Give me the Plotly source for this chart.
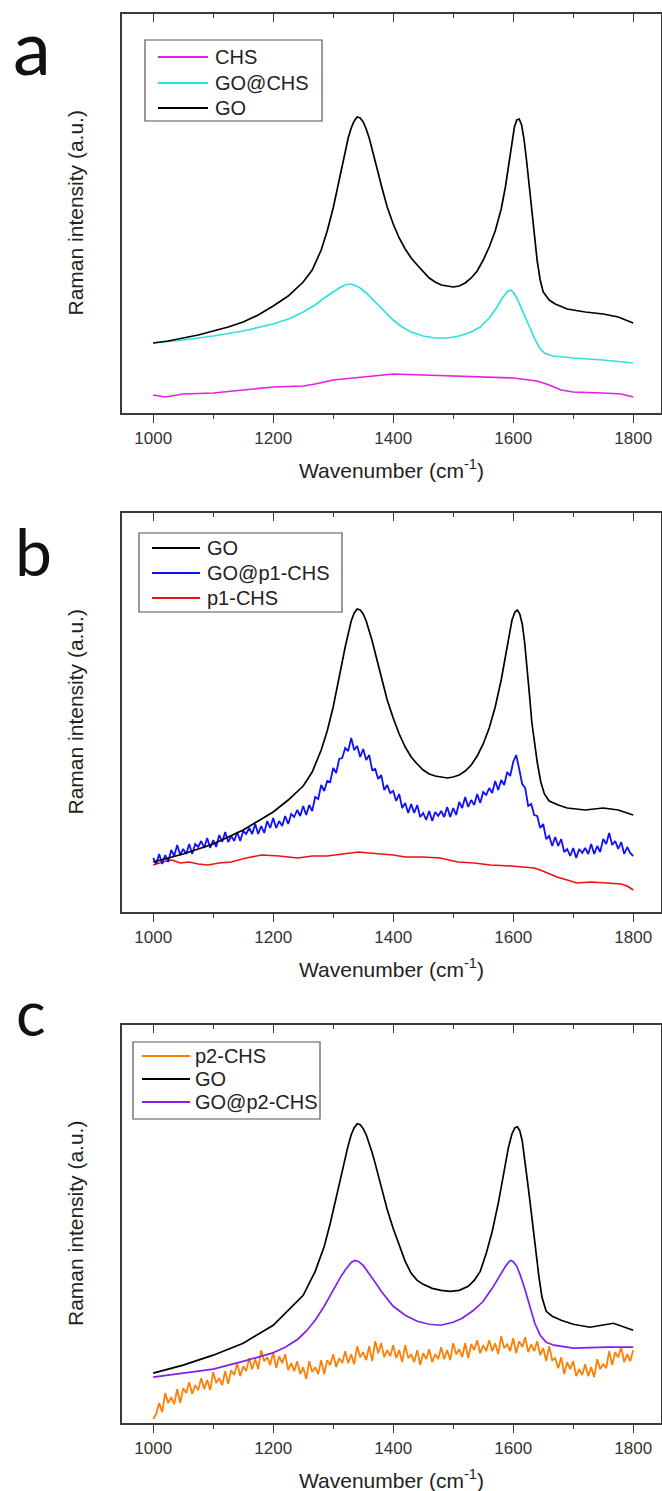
import plotly.graph_objects as go

# ---------------- data (intensity in arbitrary units) ----------------
# Panel a
a_chs_x = [1000, 1020, 1050, 1100, 1150, 1200, 1250, 1270, 1300, 1350, 1400, 1450, 1500, 1550, 1600, 1640, 1660, 1680, 1700, 1750, 1780, 1800]
a_chs_y = [18, 16, 19, 20, 23, 26, 27, 29, 33, 36, 39, 38, 37, 36, 35, 32, 28, 23, 21, 20, 19, 16]

a_gochs_x = [1000, 1050, 1100, 1150, 1200, 1230, 1250, 1270, 1285, 1300, 1310, 1320, 1328, 1335, 1345, 1355, 1365, 1375, 1390, 1400, 1415, 1430, 1450, 1470, 1490, 1510, 1530, 1545, 1560, 1572, 1582, 1590, 1595, 1600, 1606, 1613, 1620, 1628, 1636, 1644, 1652, 1665, 1700, 1750, 1800]
a_gochs_y = [70, 73, 77, 82, 89, 95, 101, 108, 115, 121, 125, 128, 129, 128, 125, 120, 114, 107, 98, 93, 86, 81, 77, 75, 75, 77, 81, 86, 95, 105, 115, 121, 123, 121, 115, 106, 96, 85, 74, 65, 60, 57, 55, 53, 50]

a_go_x = [1000, 1025, 1050, 1075, 1100, 1125, 1150, 1175, 1200, 1225, 1250, 1265, 1280, 1290, 1300, 1305, 1310, 1315, 1320, 1325, 1330, 1335, 1340, 1345, 1350, 1355, 1360, 1365, 1370, 1375, 1380, 1390, 1400, 1410, 1420, 1430, 1440, 1450, 1460, 1470, 1480, 1490, 1500, 1510, 1520, 1530, 1540, 1550, 1560, 1570, 1580, 1587, 1593, 1598, 1602, 1606, 1610, 1614, 1618, 1622, 1626, 1630, 1635, 1640, 1645, 1650, 1660, 1670, 1690, 1720, 1750, 1775, 1800]
a_go_y = [70, 72, 75, 78, 82, 86, 91, 98, 107, 117, 131, 143, 163, 182, 205, 219, 233, 248, 262, 275, 285, 292, 296, 295, 291, 284, 275, 264, 252, 240, 228, 206, 189, 175, 164, 155, 148, 141, 135, 131, 128, 127, 126, 127, 130, 135, 142, 153, 166, 182, 204, 226, 250, 272, 286, 293, 294, 288, 274, 254, 230, 205, 178, 152, 133, 121, 113, 109, 104, 101, 99, 96, 90]

# Panel b
b_go_x = [1000, 1050, 1100, 1150, 1200, 1225, 1250, 1265, 1280, 1290, 1300, 1305, 1310, 1315, 1320, 1325, 1330, 1335, 1340, 1345, 1350, 1355, 1360, 1365, 1370, 1375, 1380, 1390, 1400, 1410, 1420, 1430, 1440, 1450, 1460, 1470, 1480, 1490, 1500, 1510, 1520, 1530, 1540, 1550, 1560, 1570, 1580, 1587, 1593, 1598, 1603, 1607, 1611, 1615, 1619, 1623, 1627, 1631, 1636, 1640, 1646, 1652, 1660, 1675, 1690, 1720, 1750, 1775, 1800]
b_go_y = [50, 58, 68, 82, 100, 112, 126, 140, 162, 181, 205, 219, 234, 250, 265, 279, 291, 299, 303, 302, 298, 291, 282, 271, 259, 247, 235, 212, 194, 178, 165, 155, 148, 142, 138, 136, 135, 134, 135, 137, 141, 147, 156, 168, 184, 205, 232, 256, 278, 292, 300, 302, 298, 288, 270, 246, 218, 190, 165, 150, 130, 118, 111, 107, 104, 102, 104, 102, 97]

b_gop1_x = list(range(1000, 1801, 5))
b_gop1_y = [54, 48, 58, 48, 57, 50, 62, 56, 67, 57, 63, 58, 68, 58, 68, 65,
            71, 64, 74, 64, 72, 65, 77, 70, 80, 70, 76, 71, 80, 71, 81, 78,
            84, 78, 88, 78, 86, 79, 91, 84, 94, 84, 91, 86, 96, 88, 98, 95,
            102, 96, 106, 97, 107, 101, 115, 113, 127, 121, 131, 130, 144, 139, 153, 154,
            164, 161, 174, 162, 166, 155, 163, 152, 157, 142, 143, 133, 137, 122, 127, 119,
            121, 111, 118, 104, 109, 99, 108, 99, 107, 95, 99, 92, 101, 91, 100, 96,
            101, 95, 105, 95, 104, 97, 110, 104, 115, 105, 112, 107, 118, 109, 120, 117,
            124, 119, 131, 122, 132, 127, 140, 136, 150, 157, 143, 128, 124, 106, 108, 97,
            96, 84, 88, 73, 76, 66, 75, 66, 73, 60, 63, 56, 64, 54, 63, 59,
            64, 58, 68, 58, 66, 60, 73, 68, 79, 67, 71, 63, 70, 58, 65, 59,
            56]

b_p1_x = [1000, 1015, 1031, 1045, 1060, 1075, 1091, 1110, 1130, 1155, 1181, 1210, 1241, 1265, 1290, 1315, 1342, 1360, 1380, 1400, 1420, 1450, 1478, 1508, 1535, 1562, 1597, 1617, 1635, 1645, 1660, 1673, 1690, 1706, 1730, 1757, 1780, 1790, 1800]
b_p1_y = [47, 50, 52, 49, 50, 48, 47, 49, 50, 54, 57, 56, 54, 56, 56, 58, 60, 59, 58, 57, 55, 55, 54, 50, 49, 47, 46, 45, 44, 42, 38, 35, 32, 29, 30, 29, 28, 26, 22]

# Panel c
c_p2_x = list(range(1000, 1801, 5))
c_p2_y = [4, 9, 20, 11, 30, 20, 26, 19, 34, 20, 35, 30, 41, 29, 38, 33,
          45, 34, 43, 33, 51, 40, 45, 38, 52, 39, 53, 48, 60, 47, 57, 52,
          65, 54, 64, 54, 73, 62, 66, 58, 71, 55, 67, 60, 69, 53, 60, 52,
          62, 49, 56, 44, 62, 51, 56, 49, 63, 49, 63, 58, 69, 56, 65, 60,
          72, 60, 69, 59, 77, 66, 71, 63, 77, 62, 82, 70, 80, 66, 73, 67,
          78, 65, 73, 61, 78, 65, 69, 61, 73, 58, 70, 64, 74, 61, 69, 64,
          76, 64, 73, 63, 80, 69, 74, 66, 80, 65, 79, 73, 83, 70, 78, 72,
          83, 72, 80, 69, 87, 75, 79, 72, 85, 70, 82, 76, 86, 71, 79, 72,
          82, 68, 75, 62, 77, 63, 65, 55, 66, 49, 61, 54, 62, 47, 54, 48,
          59, 47, 56, 46, 64, 54, 59, 55, 72, 58, 71, 66, 76, 61, 69, 62,
          73]

c_go_x = [1000, 1050, 1100, 1150, 1200, 1225, 1250, 1270, 1285, 1295, 1305, 1312, 1318, 1324, 1330, 1335, 1340, 1345, 1350, 1355, 1360, 1365, 1370, 1375, 1380, 1390, 1400, 1410, 1420, 1430, 1440, 1450, 1465, 1480, 1495, 1510, 1525, 1535, 1545, 1555, 1565, 1575, 1584, 1592, 1598, 1603, 1607, 1611, 1615, 1619, 1623, 1628, 1633, 1638, 1643, 1648, 1655, 1665, 1680, 1700, 1728, 1767, 1800]
c_go_y = [50, 58, 68, 80, 98, 113, 128, 152, 177, 200, 225, 243, 260, 276, 289, 296, 300, 299, 295, 289, 281, 271, 260, 248, 236, 214, 195, 178, 162, 150, 143, 139, 135, 133, 132, 133, 137, 143, 152, 170, 192, 220, 250, 276, 290, 296, 297, 293, 283, 266, 246, 222, 195, 170, 146, 126, 112, 107, 103, 99, 96, 100, 93]

c_gop2_x = [1000, 1050, 1100, 1151, 1198, 1220, 1241, 1255, 1270, 1285, 1300, 1312, 1322, 1330, 1336, 1342, 1350, 1360, 1370, 1380, 1390, 1400, 1420, 1440, 1460, 1479, 1500, 1515, 1534, 1550, 1565, 1578, 1588, 1595, 1600, 1606, 1612, 1620, 1628, 1636, 1645, 1655, 1668, 1700, 1757, 1800]
c_gop2_y = [46, 50, 54, 62, 70, 76, 84, 92, 103, 117, 133, 146, 155, 161, 163, 162, 158, 150, 141, 132, 124, 117, 108, 102, 99, 98, 101, 105, 113, 122, 135, 148, 158, 163, 162, 157, 148, 133, 116, 100, 88, 81, 78, 75, 76, 76]

x_tick_vals = [1000, 1200, 1400, 1600, 1800]
x_tick_text = ["1000", "1200", "1400", "1600", "1800"]
x_minor_vals = [1100, 1300, 1500, 1700]
panel_letters = ["a", "b", "c"]

# ---------------- layout geometry ----------------
W, H = 662, 1491
def py(p):
    return 1 - p / H
def px(p):
    return p / W

panels = [(14, 413), (513, 912), (1025, 1423)]
x_left, x_right = 122, 661
xr = [948, 948 + (x_right - x_left) / 0.6]
yr = [0, 399]

FONT = "Liberation Sans, Arial, sans-serif"
AX = "#3a3a3a"

series = [
    (0, "CHS", a_chs_x, a_chs_y, "#e61ee6", 1.6),
    (0, "GO@CHS", a_gochs_x, a_gochs_y, "#2fe0e0", 1.7),
    (0, "GO", a_go_x, a_go_y, "#000000", 1.7),
    (1, "GO", b_go_x, b_go_y, "#000000", 1.7),
    (1, "GO@p1-CHS", b_gop1_x, b_gop1_y, "#1010ff", 1.8),
    (1, "p1-CHS", b_p1_x, b_p1_y, "#ee1111", 1.6),
    (2, "p2-CHS", c_p2_x, c_p2_y, "#ff8000", 1.8),
    (2, "GO", c_go_x, c_go_y, "#000000", 1.7),
    (2, "GO@p2-CHS", c_gop2_x, c_gop2_y, "#7f1ff2", 1.7),
]
draw_order = [0, 1, 2, 5, 4, 3, 6, 8, 7]

fig = go.Figure()
for i in draw_order:
    p, name, xs, ys, col, lw = series[i]
    sfx = "" if p == 0 else str(p + 1)
    fig.add_trace(go.Scatter(
        x=xs, y=ys, mode="lines", name=name,
        line=dict(color=col, width=lw),
        xaxis="x" + sfx, yaxis="y" + sfx, showlegend=False,
    ))

layout = dict(
    width=W, height=H,
    margin=dict(l=0, r=0, t=0, b=0),
    paper_bgcolor="white", plot_bgcolor="white",
    showlegend=False,
    font=dict(family=FONT, color="#222"),
)

# legend boxes: (left, top, right, bottom, line x0, line x1, text x, row ys)
legend_geo = [
    (145, 40, 322, 121, 158, 208, 213, [57, 83, 108]),
    (139, 533, 342, 612, 152, 200, 205, [548, 573, 598]),
    (133, 1042, 320, 1119, 142, 190, 193, [1056, 1079, 1102]),
]

annotations = []
shapes = []
for p, (top, bot) in enumerate(panels):
    sfx = "" if p == 0 else str(p + 1)
    dom_y = [py(bot), py(top)]
    dom_x = [px(x_left), px(x_right)]
    layout["xaxis" + sfx] = dict(
        domain=dom_x, range=xr, anchor="y" + sfx,
        showline=True, linecolor=AX, linewidth=1.6, mirror=True,
        ticks="outside", ticklen=8, tickwidth=1.4, tickcolor=AX,
        tickvals=x_tick_vals, ticktext=x_tick_text,
        tickfont=dict(family=FONT, size=17, color="#333"),
        ticklabelstandoff=1,
        minor=dict(ticks="outside", ticklen=4, tickwidth=1.4, tickcolor=AX,
                   tickvals=x_minor_vals),
        showgrid=False, zeroline=False,
    )
    top_ax = str(p + 4)
    layout["xaxis" + top_ax] = dict(
        domain=dom_x, range=xr, anchor="y" + sfx, overlaying="x" + sfx, side="top",
        showline=False, ticks="inside", ticklen=8, tickwidth=1.4, tickcolor=AX,
        tickvals=x_tick_vals, showticklabels=False,
        minor=dict(ticks="inside", ticklen=4, tickwidth=1.4, tickcolor=AX,
                   tickvals=x_minor_vals),
        showgrid=False, zeroline=False,
    )
    layout["yaxis" + sfx] = dict(
        domain=dom_y, range=yr, anchor="x" + sfx,
        showline=True, linecolor=AX, linewidth=1.6, mirror=True,
        ticks="", showticklabels=False, showgrid=False, zeroline=False,
    )
    # axis titles
    annotations.append(dict(
        text="Wavenumber (cm<sup>-1</sup>)", x=px((x_left + x_right) / 2), y=py(bot + 56),
        xref="paper", yref="paper", xanchor="center", yanchor="middle",
        showarrow=False, font=dict(family=FONT, size=21, color="#222"),
    ))
    annotations.append(dict(
        text="Raman intensity (a.u.)", x=px(75), y=py((top + bot) / 2),
        xref="paper", yref="paper", xanchor="center", yanchor="middle",
        textangle=-90, showarrow=False, font=dict(family=FONT, size=21, color="#222"),
    ))
    # legend (box, line samples, labels) in this panel's order
    l, t, r, b, lx0, lx1, tx, rows = legend_geo[p]
    shapes.append(dict(type="rect", xref="paper", yref="paper",
                       x0=px(l), x1=px(r), y0=py(b), y1=py(t),
                       line=dict(color="#555", width=1.2), fillcolor="white", layer="above"))
    entries = [s for s in series if s[0] == p]
    for (pp, name, xs, ys, col, lw), ry in zip(entries, rows):
        shapes.append(dict(type="line", xref="paper", yref="paper",
                           x0=px(lx0), x1=px(lx1), y0=py(ry), y1=py(ry),
                           line=dict(color=col, width=1.8), layer="above"))
        annotations.append(dict(
            text=name, x=px(tx), y=py(ry), xref="paper", yref="paper",
            xanchor="left", yanchor="middle", showarrow=False,
            font=dict(family=FONT, size=20, color="#222"),
        ))

letter_pos = [(11, 72, 76), (13, 574, 66), (14, 1034, 62)]
for (lx, base, fs), letter in zip(letter_pos, panel_letters):
    annotations.append(dict(
        text=letter, x=px(lx), y=py(base + fs * 0.27),
        xref="paper", yref="paper", xanchor="left", yanchor="bottom",
        showarrow=False, font=dict(family="Lato, Open Sans, sans-serif", size=fs, color="#111"),
    ))

layout["annotations"] = annotations
layout["shapes"] = shapes
fig.update_layout(**layout)

# empty traces so the overlaid top axes (inward ticks) are rendered
for p in range(3):
    sfx = "" if p == 0 else str(p + 1)
    fig.add_trace(go.Scatter(x=[], y=[], xaxis="x" + str(p + 4), yaxis="y" + sfx,
                             showlegend=False, hoverinfo="skip"))

fig.write_html("out.html",
               config={"displayModeBar": False},
               post_script="document.body.style.margin='0px';document.body.style.overflow='hidden';")
